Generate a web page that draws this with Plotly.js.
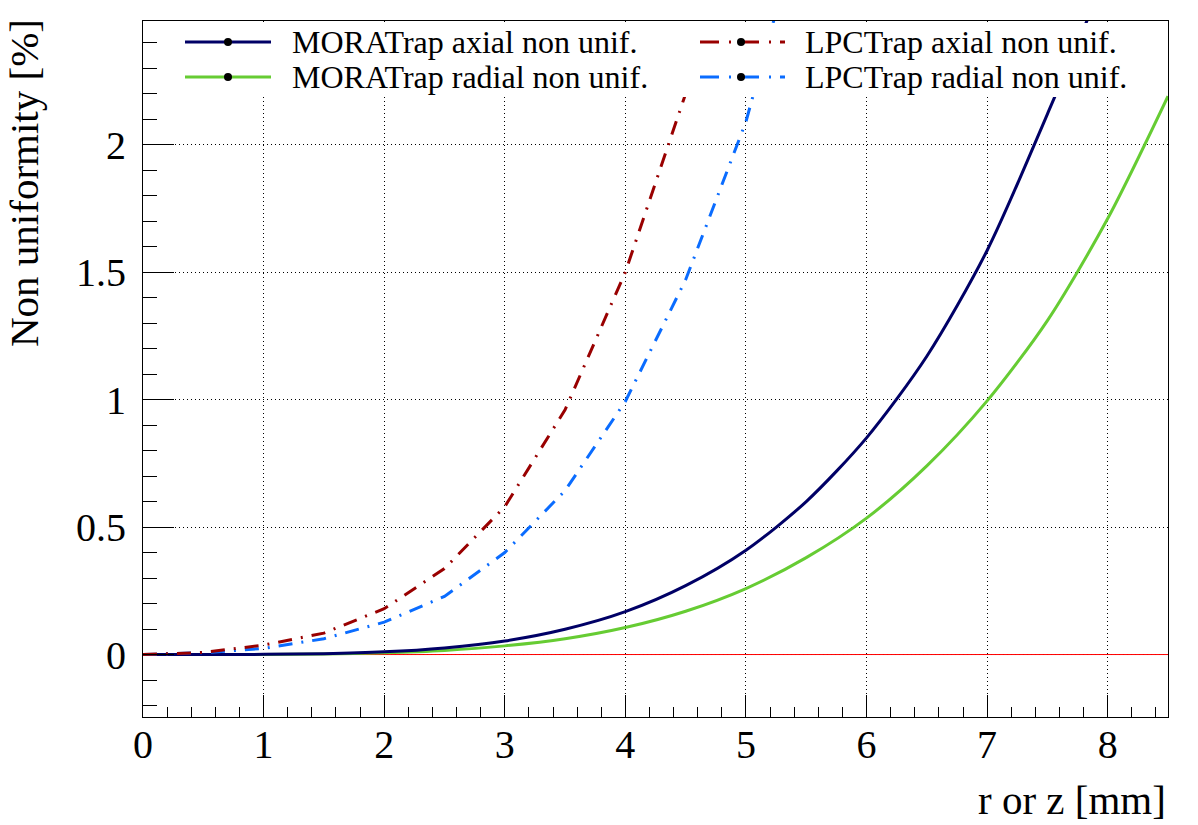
<!DOCTYPE html>
<html>
<head>
<meta charset="utf-8">
<script src="https://cdn.plot.ly/plotly-3.0.1.min.js"></script>
<style>
  html, body { margin: 0; padding: 0; background: #ffffff; }
  #chart { width: 1198px; height: 825px; }
</style>
</head>
<body>
<div id="chart"></div>
<script>
// ---- data ----
const moraX = [0, 0.5, 1, 1.5, 2, 2.5, 3, 3.5, 4, 4.5, 5, 5.5, 6, 6.5, 7, 7.5, 8, 8.5];
const moraAxialY = [0, 0.00004, 0.0007, 0.0033, 0.0105, 0.026, 0.053, 0.099, 0.168, 0.27, 0.409, 0.6, 0.85, 1.17, 1.585, 2.12, 2.69, 3.4];
const moraRadialY = [0, 0.00003, 0.0004, 0.002, 0.0066, 0.016, 0.034, 0.062, 0.106, 0.17, 0.259, 0.38, 0.535, 0.74, 0.995, 1.31, 1.71, 2.19];

const lpcAxialX = [0, 0.5, 1, 1.5, 2, 2.5, 3, 3.5, 4, 4.5];
const lpcAxialY = [0, 0.008, 0.037, 0.084, 0.18, 0.337, 0.58, 0.96, 1.5, 2.2];

const lpcRadialX = [0, 0.5, 1, 1.5, 2, 2.5, 3, 3.5, 4, 4.5, 5, 5.5];
const lpcRadialY = [0, 0.007, 0.024, 0.062, 0.127, 0.228, 0.40, 0.643, 0.993, 1.47, 2.09, 2.95];

const zeroLineX = [0, 8.5];
const zeroLineY = [0, 0];

const seriesNames = ["MORATrap axial non unif.", "MORATrap radial non unif.",
                     "LPCTrap axial non unif.", "LPCTrap radial non unif."];
const xTitle = "r or z [mm]";
const yTitle = "Non uniformity [%]";

// ---- styles ----
const colNavy = "#000066", colGreen = "#66cc33", colRed = "#990000", colBlue = "#0a6cff";
const FONT = "Liberation Serif, Times New Roman, serif";
const L = 143, T = 21, PW = 1025, PH = 696;
const px = p => (p - L) / PW;
const py = p => (T + PH - p) / PH;
const plotDash = "14px,9px,2px,9px";
const legDash = "19px,10px,2px,9px";

const traces = [
  { x: zeroLineX, y: zeroLineY, mode: "lines", line: { color: "#ff0000", width: 1 }, showlegend: false, hoverinfo: "skip" },
  { x: moraX, y: moraRadialY, mode: "lines", line: { color: colGreen, width: 3, shape: "spline", smoothing: 0.8 }, showlegend: false, name: seriesNames[1] },
  { x: moraX, y: moraAxialY, mode: "lines", line: { color: colNavy, width: 3, shape: "spline", smoothing: 0.8 }, showlegend: false, name: seriesNames[0] },
  { x: lpcRadialX, y: lpcRadialY, mode: "lines", line: { color: colBlue, width: 3, dash: plotDash }, showlegend: false, name: seriesNames[3] },
  { x: lpcAxialX, y: lpcAxialY, mode: "lines", line: { color: colRed, width: 3, dash: plotDash }, showlegend: false, name: seriesNames[2] }
];

// ---- manual legend (ROOT style) ----
const legendRows = [42, 77];
const legendCols = [{ l0: 185, l1: 271, dot: 228, txt: 290 }, { l0: 700, l1: 785, dot: 741, txt: 803 }];
const legendStyle = [
  { c: colNavy, d: "solid", col: 0, row: 0 },
  { c: colGreen, d: "solid", col: 0, row: 1 },
  { c: colRed, d: legDash, col: 1, row: 0 },
  { c: colBlue, d: legDash, col: 1, row: 1 }
];
const shapes = [
  { type: "rect", xref: "paper", yref: "paper", x0: px(160), x1: px(1162), y0: py(97), y1: py(23),
    fillcolor: "#ffffff", line: { width: 0 }, layer: "above" }
];
const annotations = [];
legendStyle.forEach((s, i) => {
  const c = legendCols[s.col], yy = legendRows[s.row];
  shapes.push({ type: "line", xref: "paper", yref: "paper", x0: px(c.l0), x1: px(c.l1), y0: py(yy), y1: py(yy),
    line: { color: s.c, width: 3, dash: s.d }, layer: "above" });
  shapes.push({ type: "circle", xref: "paper", yref: "paper", x0: px(c.dot - 4), x1: px(c.dot + 4), y0: py(yy + 4), y1: py(yy - 4),
    fillcolor: "#000000", line: { color: "#000000", width: 0 }, layer: "above" });
  annotations.push({ xref: "paper", yref: "paper", x: px(c.txt), y: py(yy), xanchor: "left", yanchor: "middle",
    text: seriesNames[i], showarrow: false, font: { family: FONT, size: 32, color: "#000" } });
});
annotations.push({ xref: "paper", yref: "paper", x: px(1168), y: py(800), xanchor: "right", yanchor: "middle",
  text: xTitle, showarrow: false, font: { family: FONT, size: 41, color: "#000" } });
annotations.push({ xref: "paper", yref: "paper", x: px(24), y: py(17), xanchor: "center", yanchor: "top", textangle: -90,
  text: yTitle, showarrow: false, font: { family: FONT, size: 41, color: "#000" } });

const layout = {
  width: 1198, height: 825,
  margin: { l: L, r: 1198 - L - PW, t: T, b: 825 - T - PH, pad: 0 },
  paper_bgcolor: "#ffffff", plot_bgcolor: "#ffffff",
  showlegend: false,
  font: { family: FONT, color: "#000" },
  xaxis: {
    range: [0, 8.5], tick0: 0, dtick: 1, ticks: "inside", ticklen: 22, tickwidth: 1, tickcolor: "#000",
    minor: { dtick: 0.2, ticks: "inside", ticklen: 10, tickwidth: 1, tickcolor: "#000", showgrid: false },
    showgrid: true, gridcolor: "#000", gridwidth: 1, griddash: "1px,3px",
    zeroline: false, showline: true, linecolor: "#000", linewidth: 1, mirror: true,
    tickfont: { family: FONT, size: 40, color: "#000" }, ticklabelstandoff: -8
  },
  yaxis: {
    range: [-0.245, 2.485], tick0: 0, dtick: 0.5, ticks: "inside", ticklen: 31, tickwidth: 1, tickcolor: "#000",
    minor: { dtick: 0.1, ticks: "inside", ticklen: 14, tickwidth: 1, tickcolor: "#000", showgrid: false },
    showgrid: true, gridcolor: "#000", gridwidth: 1, griddash: "1px,3px",
    zeroline: false, showline: true, linecolor: "#000", linewidth: 1, mirror: true,
    tickfont: { family: FONT, size: 40, color: "#000" }, ticklabelstandoff: 8
  },
  shapes: shapes,
  annotations: annotations
};

Plotly.newPlot("chart", traces, layout, { staticPlot: true, displayModeBar: false });
</script>
</body>
</html>
